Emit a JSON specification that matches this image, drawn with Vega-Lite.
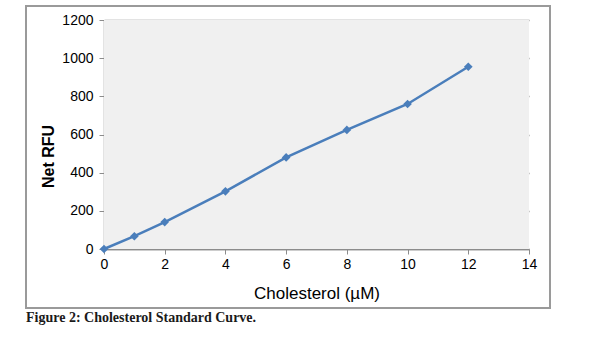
{
  "$schema": "https://vega.github.io/schema/vega-lite/v6.json",
  "autosize": "none",
  "width": 524,
  "height": 302,
  "padding": {"left": 26, "top": 6, "right": 50, "bottom": 43},
  "background": "white",
  "config": {
    "view": {"stroke": "#9a9a9a", "strokeWidth": 2, "fill": "white"},
    "font": "Liberation Sans"
  },
  "title": {
    "text": "Figure 2: Cholesterol Standard Curve.",
    "orient": "bottom",
    "anchor": "start",
    "frame": "group",
    "font": "Liberation Serif",
    "fontSize": 14,
    "fontWeight": "bold",
    "color": "#1a1a1a",
    "baseline": "top",
    "offset": 3
  },
  "data": {
    "values": [
      {"conc": 0, "rfu": 0},
      {"conc": 1, "rfu": 67},
      {"conc": 2, "rfu": 141},
      {"conc": 4, "rfu": 302},
      {"conc": 6, "rfu": 480},
      {"conc": 8, "rfu": 624},
      {"conc": 10, "rfu": 760},
      {"conc": 12, "rfu": 955}
    ]
  },
  "encoding": {
    "x": {
      "field": "conc",
      "type": "quantitative",
      "scale": {"domain": [0, 14], "range": [78, 503], "nice": false, "zero": false},
      "axis": {
        "title": "Cholesterol (µM)",
        "values": [0, 2, 4, 6, 8, 10, 12, 14],
        "format": "d",
        "offset": -59,
        "grid": false,
        "labelFlush": false,
        "domainColor": "#8c8c8c",
        "domainWidth": 1.5,
        "tickColor": "#8c8c8c",
        "tickSize": 5,
        "labelFontSize": 14,
        "labelColor": "black",
        "labelPadding": 3,
        "titleFontSize": 17,
        "titleFontWeight": "normal",
        "titleColor": "black",
        "titleY": 44,
        "titleBaseline": "middle"
      }
    },
    "y": {
      "field": "rfu",
      "type": "quantitative",
      "scale": {"domain": [0, 1200], "range": [243, 14], "nice": false, "zero": false},
      "axis": {
        "title": "Net RFU",
        "values": [0, 200, 400, 600, 800, 1000, 1200],
        "format": "d",
        "offset": -78,
        "grid": true,
        "labelFlush": false,
        "gridColor": "#8f8f8f",
        "gridWidth": 1.5,
        "domainColor": "#8c8c8c",
        "domainWidth": 1.5,
        "tickColor": "#8c8c8c",
        "tickSize": 5,
        "labelFontSize": 14,
        "labelColor": "black",
        "labelPadding": 6,
        "titleFontSize": 16,
        "titleFontWeight": "bold",
        "titleColor": "black",
        "titleAngle": -90,
        "titleAlign": "center",
        "titleBaseline": "middle",
        "titleX": -56,
        "titleY": 150
      }
    }
  },
  "layer": [
    {
      "mark": {"type": "rect", "fill": "#f0f0f0"},
      "encoding": {
        "x": {"datum": 0},
        "x2": {"datum": 14},
        "y": {"datum": 0},
        "y2": {"datum": 1200}
      }
    },
    {
      "mark": {"type": "line", "color": "#4a7ebb", "strokeWidth": 2.5}
    },
    {
      "mark": {"type": "point", "shape": "diamond", "filled": true, "color": "#4a7ebb", "size": 75, "opacity": 1}
    }
  ]
}
